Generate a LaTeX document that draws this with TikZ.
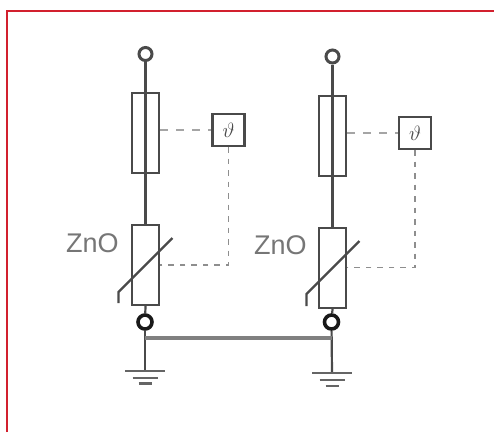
\documentclass[tikz,border=0pt]{standalone}
\usepackage{fontspec}
\setmainfont{Liberation Sans}
\definecolor{wire}{HTML}{4A4A4A}
\definecolor{dashc}{HTML}{8E8E8E}
\definecolor{txt}{HTML}{767676}
\definecolor{frame}{HTML}{D2202E}
\tikzset{x=1pt,y=-1pt,
 wireline/.style={draw=wire,line width=2.2pt},
 ctrl/.style={draw=dashc,line width=1.6pt,dash pattern=on 5.5pt off 6pt},
 ctrllink/.style={draw=dashc!80,line width=1.6pt,dash pattern=on 8pt off 8pt},
 busline/.style={draw=wire!70,line width=4pt},
 gndline/.style={draw=wire!85,line width=2.6pt},
 termopen/.style={circle,draw=wire,line width=3pt,minimum size=13pt,inner sep=0pt,fill=white},
 termbold/.style={circle,draw=black!90,line width=3.6pt,minimum size=14pt,inner sep=0pt,fill=white},
 part/.style={rectangle,draw=wire,line width=2.2pt,minimum width=27pt,inner sep=0pt},
 sensor/.style={rectangle,draw=wire,line width=2.2pt,fill=white,minimum size=32pt,inner sep=0pt,text=wire},
 lbl/.style={font=\fontsize{27}{27}\selectfont,text=txt,inner sep=0pt,anchor=base west}}
\begin{document}
\begin{tikzpicture}
\useasboundingbox (0,0) rectangle (494,432);
\fill[white] (0,0) rectangle (494,432);
\draw[frame,line width=2.8pt] (7,432) -- (7,11) -- (494,11);
% left branch
\node[part,minimum height=80pt] (fa) at (145.5,133) {};
\node[part,minimum height=80pt] (va) at (145.5,265) {};
\node[termopen] (ta) at (145.5,54) {};
\node[termbold] (ba) at (145,322) {};
\node[sensor] (sa) at (228.5,130) {\huge$\vartheta$};
\coordinate (ga) at (145,371);
\coordinate (ga2) at (145,378);
\coordinate (ga3) at (145,383.5);
\coordinate (ca) at (228.5,265);
\coordinate (ja) at (145,338);
\draw[wireline] (ta) -- (fa.north) -- (fa.south) -- (va.north);
\draw[wireline] (va.south) -- (ba);
\draw[wireline] (ba) -- (ga);
\draw[gndline] ([xshift=-20pt]ga) -- ([xshift=20pt]ga);
\draw[gndline,line width=2.2pt] ([xshift=-12.5pt]ga2) -- ([xshift=12.5pt]ga2);
\draw[gndline] ([xshift=-6.5pt]ga3) -- ([xshift=6.5pt]ga3);
\draw[ctrllink] (fa.east |- sa) -- (sa.west);
\draw[ctrl] (sa.south) -- (ca) -- (va.east |- ca);
\draw[wireline] (118.5,303) -- (118.5,292) -- (172.5,238);
\node[lbl] (za) at (66,252) {ZnO};
% right branch
\node[part,minimum height=80pt] (fb) at (332.5,136) {};
\node[part,minimum height=80pt] (vb) at (332.5,268) {};
\node[termopen] (tb) at (332.5,56.5) {};
\node[termbold] (bb) at (331.5,322) {};
\node[sensor] (sb) at (415,133) {\huge$\vartheta$};
\coordinate (gb) at (332,373);
\coordinate (gb2) at (332,380);
\coordinate (gb3) at (332,386);
\coordinate (cb) at (415,267.5);
\coordinate (jb) at (332,338);
\draw[wireline] (tb) -- (fb.north) -- (fb.south) -- (vb.north);
\draw[wireline] (vb.south) -- (bb);
\draw[wireline] (bb) -- (gb);
\draw[gndline] ([xshift=-20pt]gb) -- ([xshift=20pt]gb);
\draw[gndline,line width=2.2pt] ([xshift=-12.5pt]gb2) -- ([xshift=12.5pt]gb2);
\draw[gndline] ([xshift=-6.5pt]gb3) -- ([xshift=6.5pt]gb3);
\draw[ctrllink] (fb.east |- sb) -- (sb.west);
\draw[ctrl] (sb.south) -- (cb) -- (vb.east |- cb);
\draw[wireline] (306.5,306) -- (306.5,294) -- (359.5,241);
\node[lbl] (zb) at (254,254.5) {ZnO};
% bus
\draw[busline] (ja) -- (jb);
\end{tikzpicture}
\end{document}
